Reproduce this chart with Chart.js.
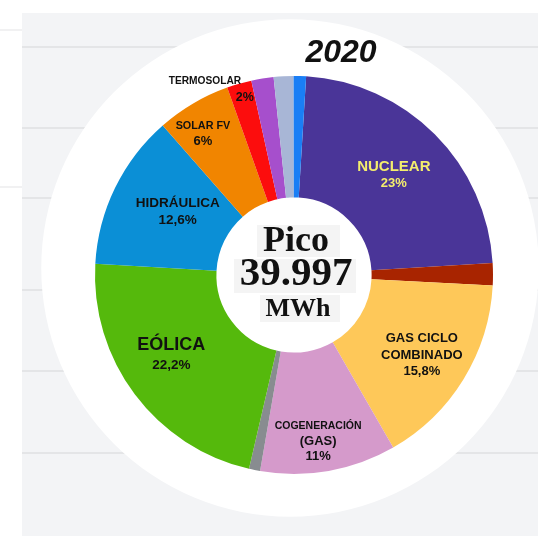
<!DOCTYPE html>
<html>
<head>
<meta charset="utf-8">
<script src="https://cdn.jsdelivr.net/npm/chart.js@4.4.1/dist/chart.umd.min.js"></script>
<style>
    body { margin: 0; background: #fff; }
    canvas { display: block; }
</style>
</head>
<body>
<canvas id="chart" width="538" height="536"></canvas>
<script>
// datos del gráfico (pico 2020), en el orden de las agujas del reloj desde arriba
const categories = [
    'NUCLEAR', 'CARBÓN', 'GAS CICLO\nCOMBINADO', 'COGENERACIÓN\n(GAS)', 'RESIDUOS',
    'EÓLICA', 'HIDRÁULICA', 'SOLAR FV', 'TERMOSOLAR', 'OTRAS RENOVABLES', 'RESIDUOS RENOVABLES', 'BIOMASA'
]
const values = [23, 1.8, 15.8, 11, 0.9, 22.2, 12.6, 6, 2, 1.8, 1.6, 1.0]
const colors = [
    '#4a3598', '#a82400', '#fec859', '#d59acb', '#888c90',
    '#55b90c', '#0b8fd6', '#f18500', '#fc0d0d', '#a64fcc', '#a8b6d6', '#1a7ef5'
]
const title = '2020'
const centerLines = ['Pico', '39.997', 'MWh']

// qué sectores llevan etiqueta y cómo (desplazamiento respecto al centro del sector)
const labelStyle = [
    { i: 0, dx: 2, dy: -2, color: '#f4ee6d', fonts: ['bold 15px "Liberation Sans"', 'bold 13px "Liberation Sans"'], gap: 17 },
    { i: 2, dx: 10, dy: 8, color: '#111', fonts: ['bold 13px "Liberation Sans"', 'bold 13px "Liberation Sans"', 'bold 13px "Liberation Sans"'], gap: 16.5 },
    { i: 3, dx: 0, dy: 30, color: '#111', fonts: ['bold 10.5px "Liberation Sans"', 'bold 13px "Liberation Sans"', 'bold 13px "Liberation Sans"'], gap: 15 },
    { i: 5, dx: -12, dy: -3, color: '#111', fonts: ['bold 18px "Liberation Sans"', 'bold 13.5px "Liberation Sans"'], gap: 20.5 },
    { i: 6, dx: 8, dy: -3, color: '#111', fonts: ['bold 13.5px "Liberation Sans"', 'bold 13.5px "Liberation Sans"'], gap: 17 },
    { i: 7, dx: -21, dy: -22, color: '#111', fonts: ['bold 10.8px "Liberation Sans"', 'bold 13px "Liberation Sans"'], gap: 15 },
    // termosolar: el nombre va desplazado a la izquierda del porcentaje
    { i: 8, dx: -11, dy: -53, color: '#111', fonts: ['bold 10.2px "Liberation Sans"', 'bold 12.5px "Liberation Sans"'], gap: 16.5, lineDx: [-40, 0] }
]

function pctText(v) {
    return String(v).replace('.', ',') + '%'
}

// fondo de la captura: zona gris con líneas y el círculo blanco detrás del anillo
const backgroundPlugin = {
    id: 'fondo',
    beforeDraw(chart) {
        const ctx = chart.ctx
        ctx.save()
        ctx.fillStyle = '#ffffff'
        ctx.fillRect(0, 0, chart.width, chart.height)
        ctx.fillStyle = '#f3f4f6'
        ctx.fillRect(22, 13, chart.width - 22, chart.height - 13)
        ctx.fillStyle = '#e4e5e7'
        for (const y of [46, 127, 197, 289, 370, 452]) {
            ctx.fillRect(22, y, chart.width - 22, 2)
        }
        ctx.fillStyle = '#f1f1f2'
        ctx.fillRect(0, 29, 22, 2)
        ctx.fillRect(0, 186, 22, 2)

        // el círculo blanco no está del todo centrado con el anillo
        const arc = chart.getDatasetMeta(0).data[0]
        ctx.fillStyle = '#ffffff'
        ctx.beginPath()
        ctx.arc(arc.x - 4, arc.y - 7, arc.outerRadius * 1.25, 0, Math.PI * 2)
        ctx.fill()
        ctx.restore()
    }
}

// etiquetas de los sectores, texto central y año
const labelsPlugin = {
    id: 'etiquetas',
    afterDatasetsDraw(chart) {
        const ctx = chart.ctx
        const meta = chart.getDatasetMeta(0)
        ctx.save()
        ctx.textAlign = 'center'
        ctx.textBaseline = 'middle'

        for (const s of labelStyle) {
            const p = meta.data[s.i].getCenterPoint()
            const lines = categories[s.i].split('\n').concat(pctText(values[s.i]))
            const top = p.y + s.dy - (lines.length - 1) * s.gap / 2
            ctx.fillStyle = s.color
            lines.forEach((t, k) => {
                ctx.font = s.fonts[k]
                const ldx = s.lineDx ? s.lineDx[k] : 0
                ctx.fillText(t, p.x + s.dx + ldx, top + k * s.gap)
            })
        }

        // texto central
        const c = meta.data[0]
        const cx = c.x, cy = c.y
        ctx.fillStyle = '#f4f4f4'
        ctx.fillRect(cx - 37, cy - 50, 83, 32)
        ctx.fillRect(cx - 60, cy - 16, 122, 34)
        ctx.fillRect(cx - 34, cy + 20, 80, 27)
        ctx.fillStyle = '#111'
        ctx.font = 'bold 36px "Liberation Serif"'
        ctx.fillText(centerLines[0], cx + 2, cy - 33)
        ctx.font = 'bold 41px "Liberation Serif"'
        ctx.fillText(centerLines[1], cx + 2, cy - 1)
        ctx.font = 'bold 26px "Liberation Serif"'
        ctx.fillText(centerLines[2], cx + 4, cy + 34)

        // año
        ctx.font = 'italic bold 32px "Liberation Sans"'
        ctx.fillText(title, cx + 47, cy - 222)
        ctx.restore()
    }
}

new Chart(document.getElementById('chart'), {
    type: 'doughnut',
    data: {
        labels: categories,
        datasets: [{
            data: values,
            backgroundColor: colors,
            borderWidth: 0,
            hoverOffset: 0
        }]
    },
    options: {
        responsive: false,
        animation: false,
        rotation: 3.5,
        cutout: '39%',
        layout: { padding: { left: 95, right: 45, top: 76, bottom: 62 } },
        plugins: {
            legend: { display: false },
            tooltip: { enabled: false }
        }
    },
    plugins: [backgroundPlugin, labelsPlugin]
})
</script>
</body>
</html>
